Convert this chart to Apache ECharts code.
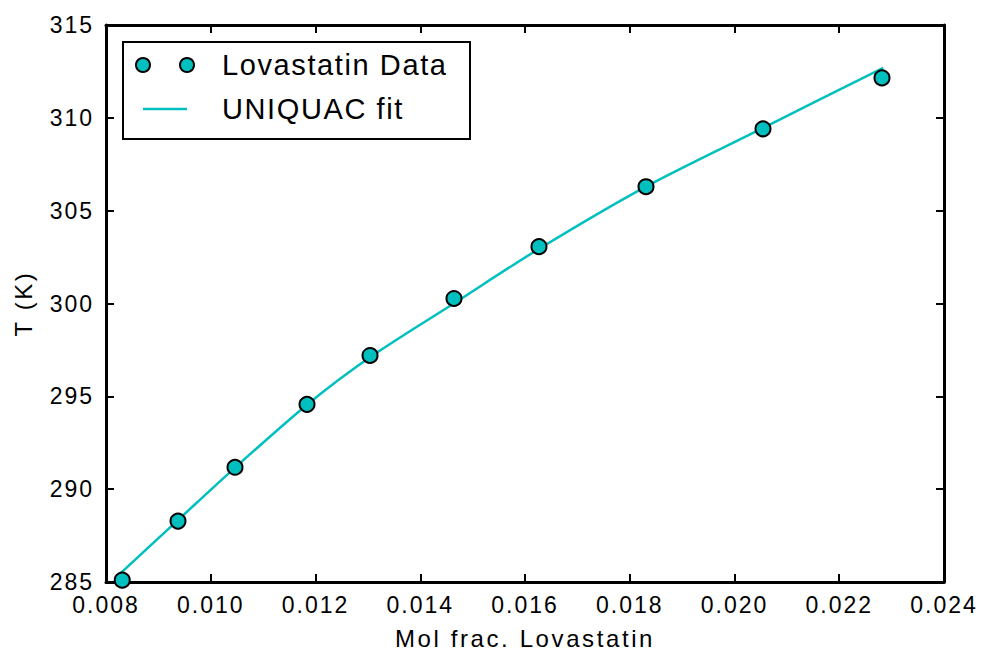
<!DOCTYPE html>
<html><head><meta charset="utf-8">
<script src="https://cdn.jsdelivr.net/npm/echarts@6/dist/echarts.min.js"></script>
<style>
html,body{margin:0;padding:0;background:#fff;}
#chart{width:982px;height:655px;}
#chart text{letter-spacing:2px;}
#chart text[style*="29px"]{letter-spacing:1.6px;}
#chart text[style*="24px"]{letter-spacing:2.6px;}
</style></head><body><div id="chart"></div>
<script>
// Measured data (mole fraction of Lovastatin vs temperature)
const dataX = [0.00831, 0.009375, 0.010463, 0.011838, 0.013041, 0.014644, 0.016267, 0.01831, 0.020544, 0.022816];
const dataT = [285.1, 288.28, 291.18, 294.57, 297.2, 300.27, 303.06, 306.29, 309.41, 312.15];
// UNIQUAC fit curve
const fitX = [0.00828, 0.00938, 0.01046, 0.01184, 0.01304, 0.01464, 0.01627, 0.01831, 0.02054, 0.02284];
const fitT = [285.48, 288.35, 291.15, 294.55, 297.1, 300.0, 302.95, 306.3, 309.45, 312.69];
// Axis settings
const xMin = 0.008, xMax = 0.024, xStep = 0.002;
const yMin = 285, yMax = 315, yStep = 5;
const seriesNames = ['Lovastatin Data', 'UNIQUAC fit'];
const axisNames = ['Mol frac. Lovastatin', 'T (K)'];

const FONT = '"Liberation Sans", Arial, Helvetica, sans-serif';
const TEAL = '#00BFBF';

const chart = echarts.init(document.getElementById('chart'), null, {renderer: 'svg'});

const axisLine = {show: true, onZero: false, lineStyle: {color: '#000', width: 3}};
const axisTick = {show: true, inside: true, length: 8, lineStyle: {color: '#000', width: 2}};
const legendFont = {fontSize: 29, fill: '#000', fontFamily: FONT, verticalAlign: 'middle', align: 'left'};

const option = {
  animation: false,
  backgroundColor: '#fff',
  grid: {left: 106, right: 38, top: 25, bottom: 72, containLabel: false},
  xAxis: [
    {
      type: 'value', min: xMin, max: xMax, interval: xStep, position: 'bottom',
      name: axisNames[0], nameLocation: 'middle', nameGap: 44,
      nameTextStyle: {fontSize: 24, color: '#000', fontFamily: FONT},
      axisLine: axisLine, axisTick: axisTick,
      axisLabel: {fontSize: 23, color: '#000', fontFamily: FONT, margin: 11,
        formatter: v => v.toFixed(3)},
      splitLine: {show: false}
    },
    {
      type: 'value', min: xMin, max: xMax, interval: xStep, position: 'top',
      axisLine: axisLine, axisTick: axisTick,
      axisLabel: {show: false}, splitLine: {show: false}
    }
  ],
  yAxis: [
    {
      type: 'value', min: yMin, max: yMax, interval: yStep, position: 'left',
      name: axisNames[1], nameLocation: 'middle', nameGap: 71,
      nameTextStyle: {fontSize: 24, color: '#000', fontFamily: FONT},
      axisLine: axisLine, axisTick: axisTick,
      axisLabel: {fontSize: 23, color: '#000', fontFamily: FONT, margin: 12},
      splitLine: {show: false}
    },
    {
      type: 'value', min: yMin, max: yMax, interval: yStep, position: 'right',
      axisLine: axisLine, axisTick: axisTick,
      axisLabel: {show: false}, splitLine: {show: false}
    }
  ],
  graphic: [
    {type: 'rect', left: 122, top: 41, z: 10,
      shape: {width: 347, height: 97},
      style: {fill: '#fff', stroke: '#000', lineWidth: 2}},
    {type: 'circle', z: 11, shape: {cx: 143, cy: 65, r: 7},
      style: {fill: TEAL, stroke: '#000', lineWidth: 2}},
    {type: 'circle', z: 11, shape: {cx: 187, cy: 65, r: 7},
      style: {fill: TEAL, stroke: '#000', lineWidth: 2}},
    {type: 'text', z: 11, x: 222, y: 65,
      style: Object.assign({text: seriesNames[0]}, legendFont)},
    {type: 'line', z: 11, shape: {x1: 143, y1: 109, x2: 187, y2: 109},
      style: {stroke: TEAL, lineWidth: 2.5}},
    {type: 'text', z: 11, x: 222, y: 109,
      style: Object.assign({text: seriesNames[1]}, legendFont)}
  ],
  series: [
    {
      type: 'line', name: seriesNames[1],
      data: fitX.map((x, i) => [x, fitT[i]]),
      smooth: 0.3, showSymbol: false, symbol: 'none',
      lineStyle: {color: TEAL, width: 2.5},
      itemStyle: {color: TEAL},
      z: 2
    },
    {
      type: 'scatter', name: seriesNames[0],
      data: dataX.map((x, i) => [x, dataT[i]]),
      symbol: 'circle', symbolSize: 15,
      itemStyle: {color: TEAL, borderColor: '#000', borderWidth: 2, opacity: 1},
      z: 3
    }
  ]
};
chart.setOption(option);
</script></body></html>
